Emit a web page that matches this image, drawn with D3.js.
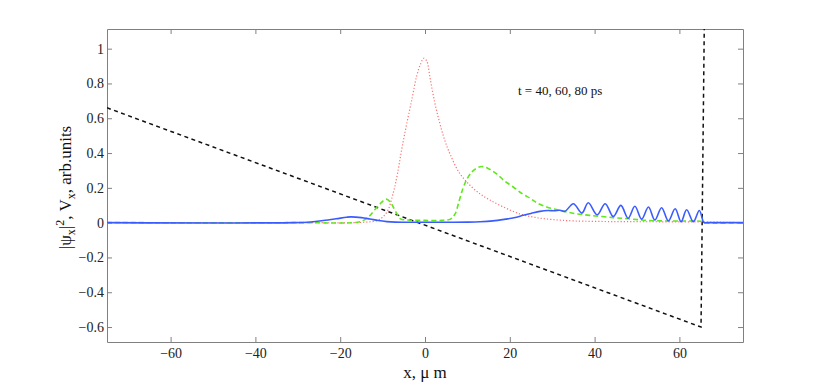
<!DOCTYPE html>
<html>
<head>
<meta charset="utf-8">
<script src="https://cdn.jsdelivr.net/npm/d3@7/dist/d3.min.js"></script>
</head>
<body style="margin:0">
<svg id="chart" width="822" height="385"></svg>
<script>
// ---------- data ----------
const xTicks = [-60, -40, -20, 0, 20, 40, 60];
const yTicks = [-0.6, -0.4, -0.2, 0, 0.2, 0.4, 0.6, 0.8, 1];
const xDomain = [-75, 75];
const yDomain = [-0.686, 1.113];

// potential V_x (black dashed)
const potX = [-75, 65.1, 65.9];
const potY = [0.66, -0.60, 1.2];

// |psi|^2 at t = 40 ps (red dotted)
const redX = [-75, -30, -14, -11, -9, -7.5, -6.5, -5.5, -4.3, -3, -2, -1, -0.3, 0.4, 1.2, 2.3, 3.5, 4.7, 5.9, 8, 10.6, 13, 15.3, 18.5, 22.4, 26, 30, 35, 45, 55, 65.5, 75];
const redY = [0, 0, 0.003, 0.015, 0.06, 0.17, 0.28, 0.42, 0.57, 0.72, 0.84, 0.915, 0.945, 0.93, 0.83, 0.69, 0.57, 0.47, 0.395, 0.29, 0.215, 0.165, 0.13, 0.09, 0.05, 0.03, 0.018, 0.01, 0.006, 0.005, 0.004, 0];

// |psi|^2 at t = 60 ps (green dashed)
const greenX = [-75, -30, -16, -14.5, -13, -12, -10.5, -9.2, -8.2, -7.5, -6.6, -5.8, -4, 0, 4, 6, 7.1, 8, 9, 10, 11, 12, 13.4, 15, 16.9, 18.5, 20.8, 23, 24.8, 26.3, 28.7, 31, 33.4, 36, 38.9, 44.4, 48, 52.3, 56, 60, 65.5, 66, 75];
const greenY = [0, 0, 0.002, 0.013, 0.04, 0.07, 0.11, 0.135, 0.12, 0.09, 0.05, 0.022, 0.015, 0.013, 0.013, 0.02, 0.05, 0.12, 0.2, 0.255, 0.29, 0.31, 0.323, 0.31, 0.28, 0.245, 0.205, 0.165, 0.14, 0.115, 0.09, 0.075, 0.061, 0.05, 0.042, 0.029, 0.022, 0.013, 0.01, 0.009, 0.007, 0, 0];

// |psi|^2 at t = 80 ps (blue solid)
const blueX = [-75, -31, -27, -24, -21, -18.5, -17.5, -15, -13, -11, -9, -7, -4, 0, 5, 10, 13, 16, 19, 21, 23.2, 25, 27.1, 29, 30.5, 31.8, 33.0, 35.0, 37.0, 38.5, 40.6, 42.5, 44.4, 46.2, 47.9, 49.5, 51.1, 52.7, 54.2, 55.8, 57.4, 59.0, 60.4, 61.7, 63.3, 64.7, 65.8, 66.5, 75];
const blueY = [0, 0, 0.004, 0.012, 0.022, 0.031, 0.033, 0.029, 0.021, 0.012, 0.006, 0.003, 0.002, 0.002, 0.002, 0.003, 0.005, 0.01, 0.02, 0.028, 0.042, 0.053, 0.065, 0.07, 0.068, 0.071, 0.065, 0.109, 0.055, 0.114, 0.045, 0.109, 0.035, 0.099, 0.025, 0.094, 0.02, 0.09, 0.015, 0.086, 0.01, 0.08, 0.005, 0.074, 0.005, 0.07, 0, 0, 0];

const annotation = "t = 40, 60, 80 ps";

// ---------- layout ----------
const FONT = '"Liberation Serif"';
const svg = d3.select("#chart");
const L = 107, R = 743, T = 29, B = 342;
const x = d3.scaleLinear().domain(xDomain).range([L, R]);
const y = d3.scaleLinear().domain(yDomain).range([B, T]);

const axisColor = "#808080";
const fmt = v => {
  if (Math.abs(v) < 1e-9) return "0";
  const s = String(+Math.abs(v).toFixed(1));
  return (v < 0 ? "\u2212" : "") + s;
};

svg.append("clipPath").attr("id", "clip")
  .append("rect").attr("x", L).attr("y", T).attr("width", R - L).attr("height", B - T);

function styleAxis(g, labels) {
  g.attr("font-family", "Liberation Serif").attr("font-size", 14);
  g.select(".domain").attr("stroke", axisColor).attr("stroke-width", 1);
  g.selectAll(".tick line").attr("stroke", axisColor);
  g.selectAll(".tick text")
    .attr("fill", "#222")
    .style("font-family", FONT)
    .style("font-size", "14px");
  if (!labels) g.selectAll(".tick text").remove();
}

// bottom
svg.append("g").attr("transform", `translate(0,${B})`)
  .call(d3.axisBottom(x).tickValues(xTicks).tickSizeInner(-5).tickSizeOuter(0).tickPadding(6).tickFormat(fmt))
  .call(g => styleAxis(g, true));
// top
svg.append("g").attr("transform", `translate(0,${T})`)
  .call(d3.axisTop(x).tickValues(xTicks).tickSizeInner(-5).tickSizeOuter(0))
  .call(g => styleAxis(g, false));
// left
svg.append("g").attr("transform", `translate(${L},0)`)
  .call(d3.axisLeft(y).tickValues(yTicks).tickSizeInner(-5).tickSizeOuter(0).tickPadding(3).tickFormat(fmt))
  .call(g => styleAxis(g, true));
// right
svg.append("g").attr("transform", `translate(${R},0)`)
  .call(d3.axisRight(y).tickValues(yTicks).tickSizeInner(-5).tickSizeOuter(0))
  .call(g => styleAxis(g, false));

// ---------- lines ----------
const plot = svg.append("g").attr("clip-path", "url(#clip)");
function series(xs, ys, curve) {
  return d3.line().x(d => x(d[0])).y(d => y(d[1])).curve(curve)(xs.map((v, i) => [v, ys[i]]));
}

plot.append("path")
  .attr("d", series(potX, potY, d3.curveLinear))
  .attr("fill", "none").attr("stroke", "#111").attr("stroke-width", 1.5)
  .attr("stroke-dasharray", "4,3.5");

plot.append("path")
  .attr("d", series(redX, redY, d3.curveCatmullRom.alpha(0.5)))
  .attr("fill", "none").attr("stroke", "#ff6f6f").attr("stroke-width", 1.2)
  .attr("stroke-dasharray", "1.2,2");

plot.append("path")
  .attr("d", series(greenX, greenY, d3.curveCatmullRom.alpha(0.5)))
  .attr("fill", "none").attr("stroke", "#5fe81a").attr("stroke-width", 1.6)
  .attr("stroke-dasharray", "5,3");

plot.append("path")
  .attr("d", series(blueX, blueY, d3.curveCatmullRom.alpha(0.5)))
  .attr("fill", "none").attr("stroke", "#3a5cff").attr("stroke-width", 1.6);

// ---------- text ----------
svg.append("text")
  .attr("x", x(0)).attr("y", 378)
  .attr("text-anchor", "middle")
  .attr("font-family", "Liberation Serif")
  .style("font-family", FONT)
  .style("font-size", "17px").attr("fill", "#111")
  .text("x, \u03BC m");

const yl = svg.append("text")
  .attr("transform", `translate(71,${(T + B) / 2 + 2}) rotate(-90)`)
  .attr("text-anchor", "middle")
  .attr("font-family", "Liberation Serif")
  .style("font-family", FONT)
  .style("font-size", "17px").attr("fill", "#111");
yl.append("tspan").text("|\u03C8");
yl.append("tspan").attr("dy", 4).style("font-size", "12px").text("x");
yl.append("tspan").attr("dy", -4).text("|");
yl.append("tspan").attr("dy", -7).style("font-size", "12px").text("2");
yl.append("tspan").attr("dy", 7).text(", V");
yl.append("tspan").attr("dy", 4).style("font-size", "12px").text("x");
yl.append("tspan").attr("dy", -4).text(", arb.units");

svg.append("text")
  .attr("x", 518).attr("y", 95)
  .attr("font-family", "Liberation Serif")
  .style("font-family", FONT)
  .style("font-size", "13px").attr("fill", "#111")
  .text(annotation);
</script>
</body>
</html>
